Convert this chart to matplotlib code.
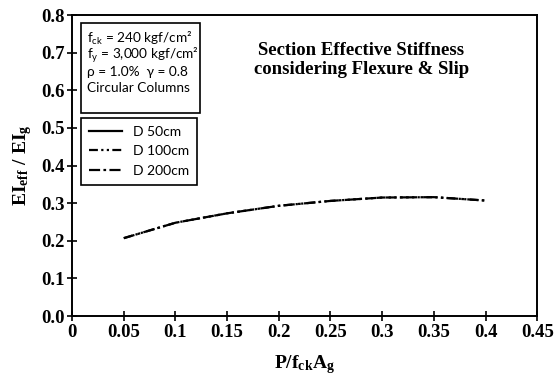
import numpy as np
import matplotlib
matplotlib.use('Agg')
import matplotlib.pyplot as plt
from matplotlib.patches import Rectangle

plt.rcParams['mathtext.fontset'] = 'custom'
plt.rcParams['mathtext.rm'] = 'Lato'
plt.rcParams['mathtext.it'] = 'Lato:italic'
plt.rcParams['mathtext.bf'] = 'Liberation Serif:bold'

# dati (le curve D 100 e D 200 si sovrappongono)
p_ratio = [0.05, 0.1, 0.15, 0.2, 0.25, 0.3, 0.35, 0.4]
d100 = [0.207, 0.248, 0.273, 0.293, 0.306, 0.315, 0.316, 0.307]
d200 = [0.207, 0.248, 0.273, 0.293, 0.306, 0.315, 0.316, 0.307]
labels = ['D 50cm', 'D 100cm', 'D 200cm']
xticks = np.arange(0, 0.451, 0.05)
xticklabels = ['0', '0.05', '0.1', '0.15', '0.2', '0.25', '0.3', '0.35', '0.4', '0.45']
yticks = np.arange(0, 0.81, 0.1)
yticklabels = ['%.1f' % v for v in yticks]
params = [r'f$_\mathrm{ck}$ = 240 kgf/cm²',
          r'f$_\mathrm{y}$ = 3,000 kgf/cm²',
          'ρ = 1.0%  γ = 0.8',
          'Circular Columns']

fig = plt.figure(figsize=(5.59, 3.78), dpi=100)
ax = fig.add_axes([0.129, 0.164, 0.832, 0.796])

ax.plot([], [], '-', color='black', lw=1.6, label=labels[0])
ax.plot(p_ratio, d100, color='black', lw=1.6, dashes=(4, 1.5, 1, 1.5, 1, 1.5), label=labels[1])
ax.plot(p_ratio, d200, color='black', lw=1.6, dashes=(5, 1.5, 1.2, 1.5), label=labels[2])

ax.set_xlim(0, 0.45)
ax.set_ylim(0, 0.8)
ax.set_xticks(xticks)
ax.set_xticklabels(xticklabels)
ax.set_yticks(yticks)
ax.set_yticklabels(yticklabels)
for lab in ax.get_xticklabels() + ax.get_yticklabels():
    lab.set_fontfamily('Liberation Serif')
    lab.set_fontweight('bold')
    lab.set_fontsize(13.5)
ax.tick_params(direction='inout', length=7, width=1.2, pad=2)
for s in ax.spines.values():
    s.set_linewidth(1.4)

ax.set_xlabel(r'$\mathbf{P/f_{ck}A_g}$', fontsize=14, labelpad=9)
ax.set_ylabel(r'$\mathbf{EI_{eff}\ /\ EI_g}$', fontsize=14, labelpad=5)

ax.text(0.622, 0.852, 'Section Effective Stiffness\nconsidering Flexure & Slip',
        transform=ax.transAxes, ha='center', va='center', fontsize=13.5,
        fontfamily='Liberation Serif', fontweight='bold', linespacing=1.15)

# riquadro dei parametri
ax.add_patch(Rectangle((0.019, 0.674), 0.256, 0.299, transform=ax.transAxes,
                       fill=False, edgecolor='black', lw=1.2))
ypos = [0.922, 0.866, 0.812, 0.757]
for t, yy in zip(params, ypos):
    ax.text(0.033, yy, t, transform=ax.transAxes, ha='left', va='center',
            fontsize=9.8, family=['Lato', 'DejaVu Sans'])

leg = ax.legend(loc='upper left', bbox_to_anchor=(0.019, 0.658), frameon=True,
                fancybox=False, edgecolor='black', framealpha=1,
                prop={'family': 'Lato', 'size': 10}, handlelength=2.4,
                handletextpad=0.8, labelspacing=0.55, borderpad=0.55,
                borderaxespad=0)
leg.get_frame().set_linewidth(1.2)

fig.savefig('out.png', dpi=100)
